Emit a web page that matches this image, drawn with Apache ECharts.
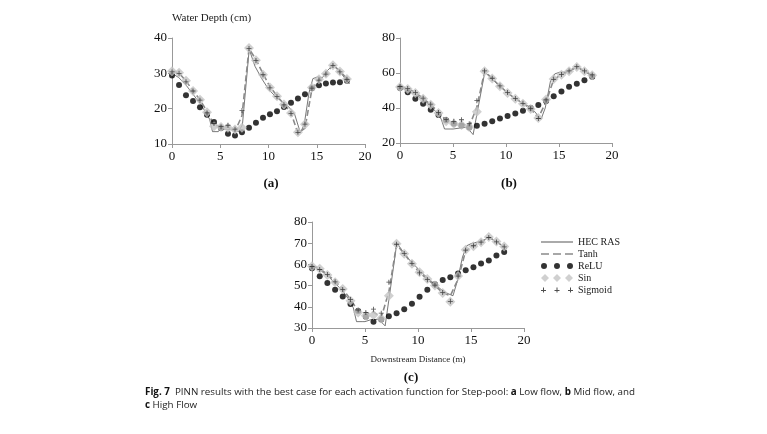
<!DOCTYPE html>
<html>
<head>
<meta charset="utf-8">
<script src="https://cdn.jsdelivr.net/npm/echarts@6/dist/echarts.min.js"></script>
<style>
  html, body { margin: 0; padding: 0; background: #fff; }
  #chart { width: 767px; height: 434px; }
</style>
</head>
<body>
<div id="chart"></div>
<script>
// sampling stations of the PINN outputs (m)
const xs = [0, 0.73, 1.45, 2.18, 2.9, 3.63, 4.35, 5.08, 5.8, 6.53, 7.25, 7.98, 8.7,
  9.43, 10.15, 10.88, 11.6, 12.33, 13.05, 13.78, 14.5, 15.23, 15.95, 16.68, 17.4, 18.13];
// HEC RAS cross sections (m)
const hecX = [0, 0.7, 1.5, 2.2, 2.9, 3.6, 3.9, 4.2, 4.8, 5.0, 5.6, 6.3, 6.9, 7.3, 8.0, 8.6,
  9.3, 10.0, 10.7, 11.4, 12.1, 12.7, 13.3, 13.7, 14.2, 14.6, 15.1, 15.6, 16.0, 16.7, 17.4, 18.4];

// (a) low flow
const hecA = [30.0, 28.8, 26.5, 24.0, 21.5, 18.5, 17.0, 13.5, 13.5, 14.3, 14.2, 14.0, 13.5, 15.5, 36.8, 32.0,
  28.5, 25.5, 23.5, 22.0, 20.5, 18.5, 13.2, 15.5, 24.5, 28.5, 29.0, 28.8, 30.5, 32.4, 30.4, 27.0];
const tanhA = [30.7, 30.1, 27.8, 25.1, 22.5, 19.2, 15.5, 14.9, 14.8, 13.6, 18.0, 37.0, 33.9,
  29.9, 26.2, 23.6, 21.3, 18.9, 13.0, 14.5, 25.5, 28.2, 29.9, 32.4, 30.6, 28.5];
const reluA = [29.4, 26.7, 23.8, 22.2, 20.4, 18.3, 16.2, 14.5, 12.9, 12.4, 13.3, 14.6, 16.0,
  17.4, 18.4, 19.3, 20.5, 21.7, 22.9, 24.1, 25.8, 26.6, 27.1, 27.4, 27.5, 27.9];
const sinA = [30.6, 30.2, 27.9, 25.0, 22.5, 19.0, 15.0, 14.8, 14.6, 14.1, 14.6, 37.2, 33.7,
  29.6, 26.0, 23.5, 21.2, 18.8, 13.3, 15.6, 26.0, 28.3, 29.9, 32.3, 30.5, 28.4];
const sigA = [30.4, 30.0, 27.6, 25.0, 22.4, 18.8, 15.8, 14.9, 15.3, 14.2, 19.5, 37.0, 33.6,
  29.6, 25.9, 23.4, 21.1, 18.6, 13.3, 15.6, 25.8, 28.1, 29.8, 32.2, 30.4, 28.3];

// (b) mid flow
const hecB = [52.0, 50.0, 47.5, 44.5, 41.0, 36.5, 33.5, 28.0, 28.0, 28.0, 28.5, 29.0, 24.8, 38.0, 60.5, 57.0,
  53.0, 49.5, 46.0, 43.5, 41.0, 38.0, 33.5, 40.0, 55.5, 59.5, 60.5, 60.5, 61.0, 63.4, 61.0, 57.0];
const tanhB = [52.5, 51.0, 48.8, 45.5, 42.0, 37.5, 33.0, 31.5, 31.0, 29.5, 40.5, 61.0, 56.9,
  52.5, 48.7, 45.4, 42.6, 39.5, 34.5, 43.5, 56.3, 59.1, 61.1, 63.5, 61.1, 58.8];
const reluB = [51.5, 49.0, 45.3, 42.5, 39.0, 36.0, 33.0, 31.0, 30.0, 28.8, 29.9, 31.0, 32.4,
  34.0, 35.4, 36.8, 38.4, 40.0, 41.7, 44.0, 46.7, 49.5, 52.2, 53.8, 55.8, 57.8];
const sinB = [52.0, 50.9, 48.6, 45.3, 41.9, 37.1, 32.4, 31.0, 30.3, 29.1, 37.9, 61.0, 56.8,
  52.4, 48.6, 45.3, 42.5, 39.4, 34.3, 44.8, 56.6, 59.0, 61.0, 63.4, 61.0, 58.7];
const sigB = [52.3, 51.2, 48.9, 45.6, 42.2, 37.5, 33.5, 32.4, 33.3, 31.0, 44.2, 61.2, 57.0,
  52.6, 48.8, 45.5, 42.7, 39.6, 34.0, 44.6, 56.4, 59.2, 61.2, 63.6, 61.2, 58.9];

// (c) high flow
const hecC = [59.5, 57.5, 54.5, 51.0, 47.5, 42.5, 39.5, 33.0, 33.0, 33.0, 34.0, 34.0, 31.0, 45.0, 70.0, 66.0,
  61.5, 58.0, 54.5, 51.5, 48.5, 46.5, 45.2, 52.0, 63.5, 68.8, 70.0, 70.5, 70.8, 72.9, 70.6, 67.4];
const tanhC = [59.5, 58.0, 55.3, 52.0, 48.5, 43.5, 38.0, 36.5, 37.5, 35.0, 47.0, 69.5, 65.0,
  60.3, 56.2, 53.0, 50.0, 46.6, 45.2, 53.0, 66.5, 68.7, 70.6, 72.8, 70.7, 68.4];
const reluC = [58.2, 54.4, 51.2, 48.0, 44.8, 41.3, 38.0, 35.3, 33.0, 34.0, 35.5, 36.9, 38.9,
  41.4, 44.7, 48.0, 50.6, 52.7, 53.9, 55.7, 57.2, 58.7, 60.4, 61.8, 64.2, 65.9];
const sinC = [59.1, 57.9, 55.0, 51.6, 48.4, 42.9, 37.3, 35.8, 36.1, 34.5, 45.2, 69.7, 65.0,
  60.3, 56.3, 53.1, 50.0, 46.5, 42.4, 54.5, 66.9, 68.6, 70.5, 72.9, 70.8, 68.5];
const sigC = [59.0, 57.6, 55.2, 51.8, 48.2, 43.5, 38.5, 37.3, 38.9, 37.0, 51.6, 69.5, 65.2,
  60.5, 56.0, 52.8, 50.2, 46.8, 42.6, 54.5, 66.7, 68.8, 70.5, 72.7, 70.6, 68.3];

const xTicks = { min: 0, max: 20, interval: 5 };
const yTicksA = { min: 10, max: 40, interval: 10 };
const yTicksB = { min: 20, max: 80, interval: 20 };
const yTicksC = { min: 30, max: 80, interval: 10 };

const SERIF = 'Liberation Serif, DejaVu Serif, serif';
const SANS = '"Open Sans", "Noto Sans", sans-serif';
const plusPath = 'path://M4.2,0h1.6v4.2h4.2v1.6h-4.2v4.2h-1.6v-4.2h-4.2v-1.6h4.2z';

const pair = (x, y) => x.map((v, i) => [v, y[i]]);

const panels = [
  { grid: { left: 172, top: 38, width: 193, height: 106 }, y: yTicksA,
    hec: hecA, tanh: tanhA, relu: reluA, sin: sinA, sig: sigA, yName: 'Water Depth (cm)' },
  { grid: { left: 400, top: 38, width: 212, height: 105 }, y: yTicksB,
    hec: hecB, tanh: tanhB, relu: reluB, sin: sinB, sig: sigB },
  { grid: { left: 312, top: 222, width: 212, height: 106 }, y: yTicksC,
    hec: hecC, tanh: tanhC, relu: reluC, sin: sinC, sig: sigC, xName: 'Downstream Distance (m)' },
];

const axisLine = { lineStyle: { color: '#999', width: 1 } };
const axisTick = { length: 4, lineStyle: { color: '#999' } };
const axisLabel = { color: '#111', fontFamily: SERIF, fontSize: 13 };

const grid = [], xAxis = [], yAxis = [], series = [];
panels.forEach((p, i) => {
  grid.push(p.grid);
  xAxis.push({
    type: 'value', gridIndex: i, ...xTicks,
    axisLine, axisTick, splitLine: { show: false },
    axisLabel: { ...axisLabel, margin: 6 },
    name: p.xName || '', nameLocation: 'middle', nameGap: 27,
    nameTextStyle: { fontFamily: SERIF, fontSize: 9, color: '#222' },
  });
  yAxis.push({
    type: 'value', gridIndex: i, ...p.y,
    axisLine: { show: true, ...axisLine }, axisTick: { show: true, ...axisTick },
    splitLine: { show: false },
    axisLabel: { ...axisLabel, margin: 5 },
    name: p.yName || '', nameLocation: 'end', nameGap: 14,
    nameTextStyle: { fontFamily: SERIF, fontSize: 11, color: '#222', align: 'left' },
  });
  series.push(
    { name: 'HEC RAS', type: 'line', xAxisIndex: i, yAxisIndex: i, data: pair(hecX, p.hec),
      showSymbol: false, symbol: 'none', color: '#555', lineStyle: { width: 0.8, color: '#555' },
      z: 2, silent: true },
    { name: 'Tanh', type: 'line', xAxisIndex: i, yAxisIndex: i, data: pair(xs, p.tanh),
      showSymbol: false, symbol: 'none', color: '#8a8a8a',
      lineStyle: { width: 1.6, color: '#8a8a8a', type: [6, 3] },
      z: 3, silent: true },
    { name: 'ReLU', type: 'scatter', xAxisIndex: i, yAxisIndex: i, data: pair(xs, p.relu),
      symbol: 'circle', symbolSize: 6, itemStyle: { color: '#000' }, z: 4 },
    { name: 'Sin', type: 'scatter', xAxisIndex: i, yAxisIndex: i, data: pair(xs, p.sin),
      symbol: 'diamond', symbolSize: 10, itemStyle: { color: '#c4c4c4' }, z: 5 },
    { name: 'Sigmoid', type: 'scatter', xAxisIndex: i, yAxisIndex: i, data: pair(xs, p.sig),
      symbol: plusPath, symbolSize: 5, itemStyle: { color: '#222' }, z: 6 },
  );
});

// legend icons drawn 32 px wide so they keep scale
const legendIcons = {
  'HEC RAS': 'path://M0,0h32v1h-32z',
  'Tanh': 'path://M0,0h8v1.5h-8z M12,0h8v1.5h-8z M24,0h8v1.5h-8z',
  'ReLU': 'path://M0,3a3,3 0 1,0 6,0a3,3 0 1,0 -6,0z M13,3a3,3 0 1,0 6,0a3,3 0 1,0 -6,0z M26,3a3,3 0 1,0 6,0a3,3 0 1,0 -6,0z',
  'Sin': 'path://M0,4L4,0L8,4L4,8Z M12,4L16,0L20,4L16,8Z M24,4L28,0L32,4L28,8Z',
  'Sigmoid': 'path://M0,2.4h5v1h-5z M2,0h1v5h-1z M13.5,2.4h5v1h-5z M15.5,0h1v5h-1z M27,2.4h5v1h-5z M29,0h1v5h-1z',
};

const option = {
  backgroundColor: '#fff',
  animation: false,
  grid, xAxis, yAxis, series,
  legend: {
    orient: 'vertical', left: 541, top: 237, padding: 0,
    itemWidth: 32, itemHeight: 10, itemGap: 2,
    selectedMode: false,
    textStyle: { fontFamily: SERIF, fontSize: 10, color: '#222' },
    data: Object.keys(legendIcons).map((name) => ({ name, icon: legendIcons[name] })),
  },
  graphic: [
    { type: 'text', x: 271, y: 184,
      style: { text: '(a)', font: 'bold 13px ' + SERIF, fill: '#111', textAlign: 'center', textVerticalAlign: 'middle' } },
    { type: 'text', x: 509, y: 184,
      style: { text: '(b)', font: 'bold 13px ' + SERIF, fill: '#111', textAlign: 'center', textVerticalAlign: 'middle' } },
    { type: 'text', x: 411, y: 378,
      style: { text: '(c)', font: 'bold 13px ' + SERIF, fill: '#111', textAlign: 'center', textVerticalAlign: 'middle' } },
    { type: 'text', x: 145, y: 386,
      style: {
        text: '{b|Fig. 7}  PINN results with the best case for each activation function for Step-pool: {b|a} Low flow, {b|b} Mid flow, and\n{b|c} High Flow',
        font: '9.8px ' + SANS, fill: '#222', lineHeight: 13,
        rich: { b: { fontWeight: 'bold', fontFamily: SANS, fontSize: 9.8, fill: '#111', lineHeight: 13 } },
      } },
  ],
};

const chart = echarts.init(document.getElementById('chart'), null, { renderer: 'canvas' });
chart.setOption(option);
</script>
</body>
</html>
